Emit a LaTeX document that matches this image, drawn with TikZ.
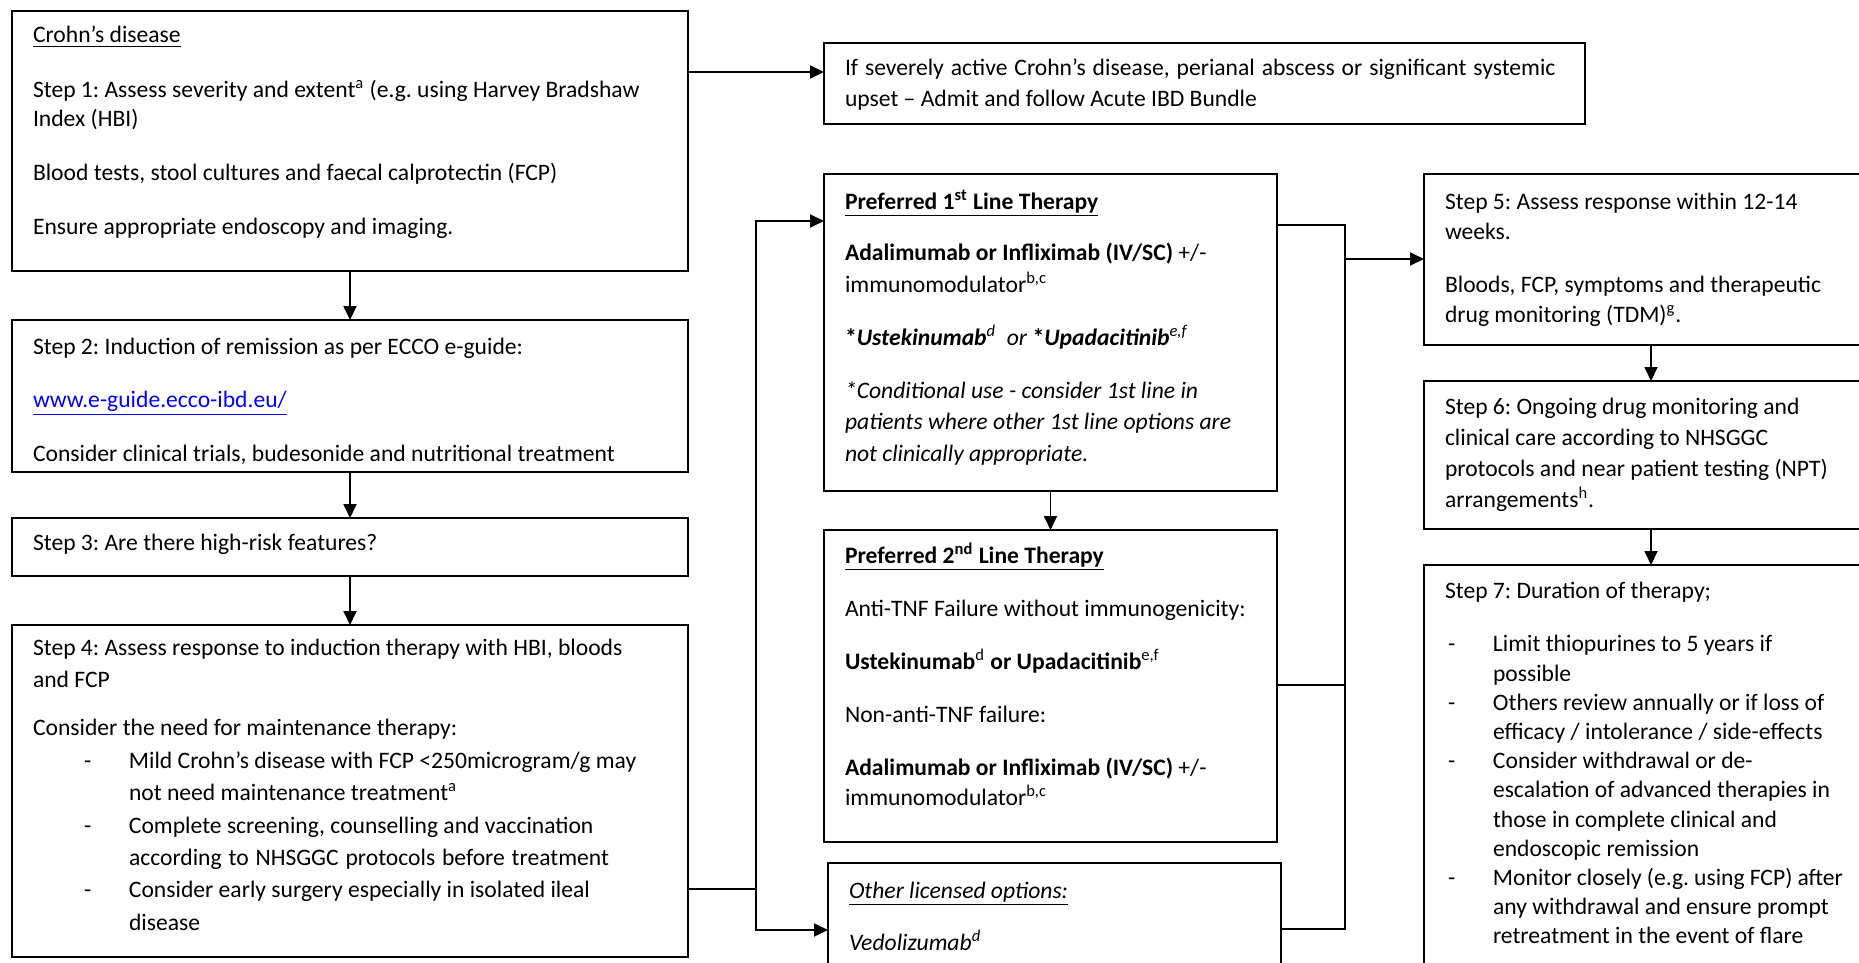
\documentclass[tikz,border=0pt]{standalone}
\usepackage{fontspec}
\setmainfont{Carlito}
\usepackage{xcolor}
\usetikzlibrary{arrows.meta}

% box contents: width, height, first baseline, line spacing, text
\newcommand{\boxtext}[5]{\makebox[#1][l]{\begin{minipage}[t][#2][t]{\dimexpr#1+40pt\relax}\fontsize{11.8pt}{#4}\selectfont\frenchspacing\raggedright\rule{0pt}{#3}#5\end{minipage}}}
\newcommand{\hyph}[1]{\hspace*{#1}\makebox[22.5pt][l]{-}}
\newcommand{\spread}[2]{\makebox[#1][s]{#2}}

\begin{document}
\begin{tikzpicture}[x=0.5pt, y=-0.5pt, >={Triangle[length=7pt,width=6.5pt]},
    box/.style={draw, line width=1pt, anchor=north west, inner xsep=10.5pt, inner ysep=0pt, outer sep=0pt},
    arr/.style={->, line width=0.9pt},
    link/.style={line width=0.9pt}]
    \path[use as bounding box, fill=white] (0,0) rectangle (1859,963);
    \clip (0,0) rectangle (1859,963);

    % left column
    \node[box] (crohn) at (12,11) {\boxtext{317pt}{130pt}{16pt}{14.6pt}{%
        \underline{Crohn’s disease}\\[12.5pt]
        Step 1: Assess severity and extent\textsuperscript{a} (e.g. using Harvey Bradshaw\\
        Index (HBI)\\[12.5pt]
        Blood tests, stool cultures and faecal calprotectin (FCP)\\[12.5pt]
        Ensure appropriate endoscopy and imaging.}};
    \node[box] (induct) at (12,320) {\boxtext{317pt}{76pt}{17pt}{15pt}{%
        Step 2: Induction of remission as per ECCO e-guide:\\[11.75pt]
        {\color{blue}\underline{www.e-guide.ecco-ibd.eu/}}\\[11.75pt]
        Consider clinical trials, budesonide and nutritional treatment}};
    \node[box] (risk) at (12,518) {\boxtext{317pt}{29pt}{16pt}{15pt}{%
        Step 3: Are there high-risk features?}};
    \node[box] (assess) at (12,625) {\boxtext{317pt}{166pt}{15pt}{16.2pt}{%
        Step 4: Assess response to induction therapy with HBI, bloods\\
        and FCP\\[8pt]
        Consider the need for maintenance therapy:\\
        \hyph{25.5pt}Mild Crohn’s disease with FCP <250microgram/g may\\
        \hspace*{48pt}not need maintenance treatment\textsuperscript{a}\\
        \hyph{25.5pt}Complete screening, counselling and vaccination\\
        \hspace*{48pt}\spread{240pt}{according to NHSGGC protocols before treatment}\\
        \hyph{25.5pt}Consider early surgery especially in isolated ileal\\
        \hspace*{48pt}disease}};

    % middle column
    \node[box] (severe) at (824,43) {\boxtext{359.5pt}{40.5pt}{16.5pt}{15.5pt}{%
        \spread{355.2pt}{If severely active Crohn’s disease, perianal abscess or significant systemic}\\
        upset – Admit and follow Acute IBD Bundle}};
    \node[box] (first) at (824,174) {\boxtext{205.5pt}{158.5pt}{17.5pt}{15.8pt}{%
        \underline{\textbf{Preferred 1\textsuperscript{st} Line Therapy}}\\[10pt]
        {\bfseries Adalimumab or Infliximab (IV/SC)} +/-\\
        immunomodulator\textsuperscript{b,c}\\[10.8pt]
        \textbf{*\textit{Ustekinumab}}\textsuperscript{\textit{d}}\ \ \textit{or} \textbf{*\textit{Upadacitinib}}\textsuperscript{\textit{e,f}}\\[10.7pt]
        {\itshape *Conditional use - consider 1st line in\\
        patients where other 1st line options are\\
        not clinically appropriate.}}};
    \node[box] (second) at (824,530) {\boxtext{205.5pt}{156pt}{16.5pt}{15pt}{%
        \underline{\textbf{Preferred 2\textsuperscript{nd} Line Therapy}}\\[11.5pt]
        Anti-TNF Failure without immunogenicity:\\[11.5pt]
        \textbf{Ustekinumab}\textsuperscript{d} \textbf{or Upadacitinib}\textsuperscript{e,f}\\[11.5pt]
        Non-anti-TNF failure:\\[11.5pt]
        {\bfseries Adalimumab or Infliximab (IV/SC)} +/-\\
        immunomodulator\textsuperscript{b,c}}};
    \node[box] (other) at (828,863) {\boxtext{205.5pt}{68.5pt}{17.5pt}{15pt}{%
        \textit{\underline{Other licensed options:}}\\[11pt]
        \textit{Vedolizumab\textsuperscript{d}}}};

    % right column
    \node[box] (step5) at (1424,174) {\boxtext{206pt}{85.5pt}{18pt}{14.5pt}{%
        Step 5: Assess response within 12-14\\
        weeks.\\[12.5pt]
        Bloods, FCP, symptoms and therapeutic\\
        drug monitoring (TDM)\textsuperscript{g}.}};
    \node[box] (step6) at (1424,381) {\boxtext{206pt}{74pt}{16.7pt}{15.5pt}{%
        Step 6: Ongoing drug monitoring and\\
        clinical care according to NHSGGC\\
        protocols and near patient testing (NPT)\\
        arrangements\textsuperscript{h}.}};
    \node[box] (step7) at (1424,565) {\boxtext{206pt}{217.5pt}{16.5pt}{14.6pt}{%
        Step 7: Duration of therapy;\\[12.3pt]
        \hyph{1.5pt}Limit thiopurines to 5 years if\\
        \hspace*{24pt}possible\\
        \hyph{1.5pt}Others review annually or if loss of\\
        \hspace*{24pt}efficacy / intolerance / side-effects\\
        \hyph{1.5pt}Consider withdrawal or de-\\
        \hspace*{24pt}escalation of advanced therapies in\\
        \hspace*{24pt}those in complete clinical and\\
        \hspace*{24pt}endoscopic remission\\
        \hyph{1.5pt}\spread{175pt}{Monitor closely (e.g. using FCP) after}\\
        \hspace*{24pt}any withdrawal and ensure prompt\\
        \hspace*{24pt}retreatment in the event of flare}};

    % connectors
    \coordinate (sevin) at ([yshift=-30.5pt]crohn.north east);
    \draw[arr] (sevin) -- (sevin -| severe.west);
    \draw[arr] (crohn.south) -- (induct.north);
    \draw[arr] (induct.south) -- (risk.north);
    \draw[arr] (risk.south) -- (assess.north);

    \coordinate (lbus) at ([xshift=34pt, yshift=-132pt]assess.north east);
    \draw[link] (assess.east |- lbus) -- (lbus);
    \draw[arr] (lbus) |- ([yshift=-23.5pt]first.north west);
    \draw[arr] (lbus) |- ([yshift=-33.5pt]other.north west);
    \draw[arr] (first.south) -- (second.north);

    \coordinate (rbus) at ([xshift=34pt, yshift=-42.5pt]first.north east);
    \draw[link] ([yshift=-25.5pt]first.north east) -| (rbus) |- ([yshift=-33pt]other.north east);
    \draw[link] ([yshift=-77.5pt]second.north east) -| (rbus);
    \draw[arr] (rbus) -- (rbus -| step5.west);

    \draw[arr] (step5.south) -- (step6.north);
    \draw[arr] (step6.south) -- (step7.north);
\end{tikzpicture}
\end{document}
